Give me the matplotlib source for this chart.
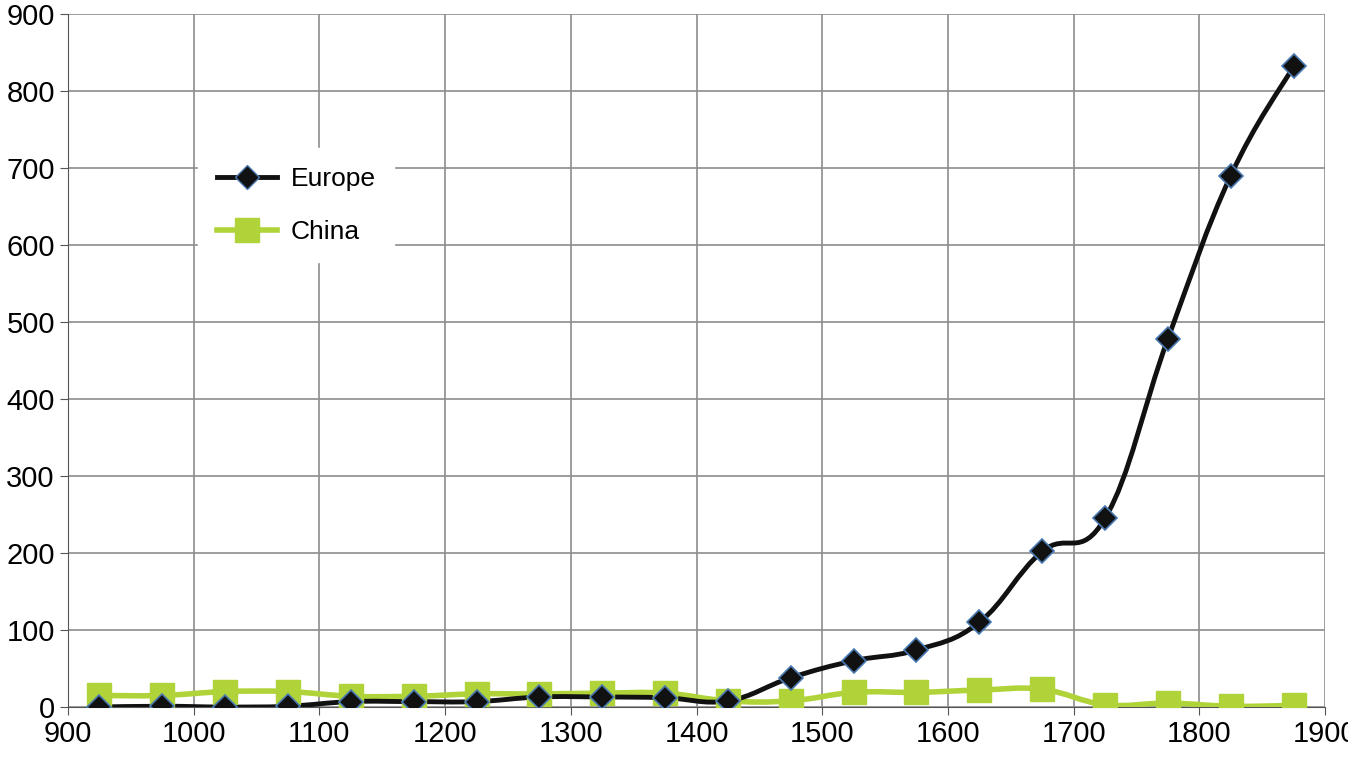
import numpy as np
import matplotlib.pyplot as plt
from matplotlib.path import Path
from matplotlib.patches import PathPatch

plt.rcParams['font.family'] = ['Liberation Sans', 'DejaVu Sans']

years = [925, 975, 1025, 1075, 1125, 1175, 1225, 1275, 1325, 1375,
         1425, 1475, 1525, 1575, 1625, 1675, 1725, 1775, 1825, 1875]
europe = [0, 1, 0, 1, 7, 7, 7, 13, 13, 12,
          8, 38, 60, 74, 110, 202, 245, 478, 690, 832]
china = [15, 15, 20, 20, 14, 14, 17, 17, 18, 18,
         8, 8, 19, 19, 22, 23, 3, 5, 1, 2]


def smooth_path(x, y, t=0.2):
    # Catmull-Rom style bezier through the points (like Excel's smoothed line)
    x = np.asarray(x, float); y = np.asarray(y, float)
    verts = [(x[0], y[0])]
    codes = [Path.MOVETO]
    n = len(x)
    for i in range(n - 1):
        p0 = i - 1 if i > 0 else i
        p3 = i + 2 if i + 2 < n else i + 1
        c1 = (x[i] + t * (x[i + 1] - x[p0]), y[i] + t * (y[i + 1] - y[p0]))
        c2 = (x[i + 1] - t * (x[p3] - x[i]), y[i + 1] - t * (y[p3] - y[i]))
        verts += [c1, c2, (x[i + 1], y[i + 1])]
        codes += [Path.CURVE4] * 3
    return Path(verts, codes)


fig = plt.figure(figsize=(13.48, 7.82), dpi=100)
ax = fig.add_axes([68 / 1348, 75 / 782, 1257 / 1348, 693 / 782])

green = '#b0d33a'
ax.add_patch(PathPatch(smooth_path(years, china), fill=False, ec=green, lw=4, zorder=3))
ax.add_patch(PathPatch(smooth_path(years, europe), fill=False, ec='#111111', lw=3.5, zorder=4))
ax.plot(years, china, ls='none', marker='s', ms=17, color=green, zorder=5)
ax.plot(years, europe, ls='none', marker='D', ms=12, mfc='#111111', mec='#4a78b0', mew=1.2, zorder=6)

# legend proxies
ax.plot([], [], color='#111111', lw=3.5, marker='D', ms=12, mfc='#111111', mec='#4a78b0', label='Europe')
ax.plot([], [], color=green, lw=4, marker='s', ms=17, label='China')
leg = ax.legend(loc='upper left', bbox_to_anchor=(0.093, 0.825), fontsize=19, frameon=True,
                fancybox=False, edgecolor='white', framealpha=1, handlelength=2.3,
                labelspacing=1.1, borderpad=0.7, handletextpad=0.5)

ax.set_xlim(900, 1900)
ax.set_ylim(0, 900)
ax.set_xticks(range(900, 2000, 100))
ax.set_yticks(range(0, 1000, 100))
ax.grid(True, color='#8c8c8c', lw=1.2)
ax.set_axisbelow(True)
ax.tick_params(labelsize=21, length=6, color='#555555')
for s in ['top', 'right']:
    ax.spines[s].set_visible(False)
for s in ['left', 'bottom']:
    ax.spines[s].set_color('#555555')

fig.savefig('out.png', dpi=100)
